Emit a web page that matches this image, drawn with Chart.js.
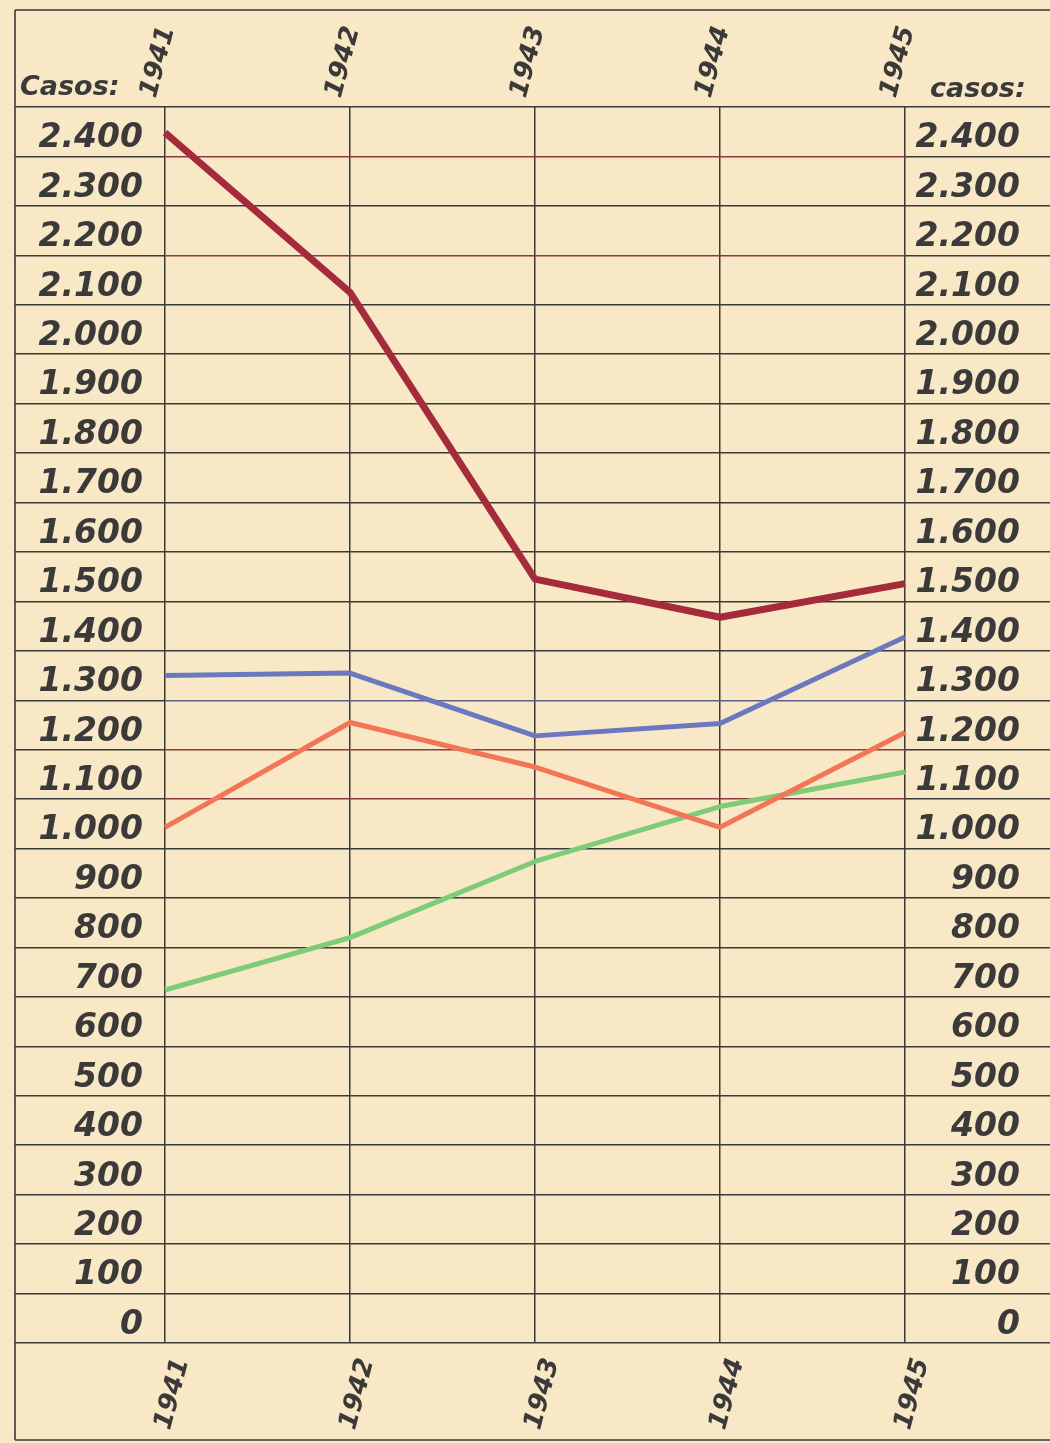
<!DOCTYPE html>
<html>
<head>
<meta charset="utf-8">
<script src="https://cdn.jsdelivr.net/npm/chart.js@4"></script>
<style>
  html, body { margin: 0; padding: 0; background: #f9e8c5; }
  canvas { display: block; }
</style>
</head>
<body>
<canvas id="chart" width="1050" height="1443"></canvas>
<script>
// years along the x axis
let years = ["1941", "1942", "1943", "1944", "1945"];

// casos per year
let redCases = [2398, 2075, 1495, 1418, 1486];
let blueCases = [1300, 1305, 1178, 1203, 1378];
let orangeCases = [993, 1205, 1115, 993, 1185];
let greenCases = [664, 770, 924, 1035, 1105];

// y tick labels (one every 100)
let yLabels = ["0", "100", "200", "300", "400", "500", "600", "700", "800", "900",
  "1.000", "1.100", "1.200", "1.300", "1.400", "1.500", "1.600", "1.700", "1.800",
  "1.900", "2.000", "2.100", "2.200", "2.300", "2.400"];

const ink = "#3b3a3a";
const tickFont = { family: "DejaVu Sans", size: 33, style: "italic", weight: "bold" };
const yearFont = { family: "DejaVu Sans", size: 26, style: "italic", weight: "bold" };

// the hand ruled lines sit half way between two labels
function isCellLine(v) { return Math.abs(v % 100) === 50; }

// a few ruled lines were traced over with coloured pencil
function gridColor(ctx) {
  let v = ctx.tick ? ctx.tick.value : null;
  if (v === null || !isCellLine(v)) return "rgba(0,0,0,0)";
  if (v === 2350 || v === 2150 || v === 1150 || v === 1050) return "#8c3b3e";
  if (v === 1250) return "#5a5f8c";
  return ink;
}
function tickLineColor(ctx) {
  let v = ctx.tick ? ctx.tick.value : null;
  if (v === null || !isCellLine(v)) return "rgba(0,0,0,0)";
  return ink;
}
function yTickLabel(v) {
  if (v % 100 !== 0) return "";
  return yLabels[v / 100] || "";
}

// outer frame and the two "Casos:" headings
const framePlugin = {
  id: "frame",
  afterDraw(chart) {
    const c = chart.ctx;
    const area = chart.chartArea;
    c.save();
    c.strokeStyle = ink;
    c.lineWidth = 1.6;
    c.beginPath();
    c.moveTo(15, 10); c.lineTo(chart.width, 10);
    c.moveTo(15, chart.height - 3); c.lineTo(chart.width, chart.height - 3);
    c.moveTo(15, 10); c.lineTo(15, chart.height - 3);
    c.stroke();
    c.fillStyle = ink;
    c.font = "italic bold 27px 'DejaVu Sans'";
    c.textBaseline = "alphabetic";
    c.textAlign = "left";
    c.fillText("Casos:", 20, 95);
    c.fillText("casos:", area.right + 25, 97);
    c.restore();
  }
};

new Chart(document.getElementById("chart"), {
  type: "line",
  data: {
    labels: years,
    datasets: [
      { data: redCases, borderColor: "#a52a3c", borderWidth: 7 },
      { data: blueCases, borderColor: "#6a79bf", borderWidth: 5 },
      { data: orangeCases, borderColor: "#f27656", borderWidth: 5 },
      { data: greenCases, borderColor: "#7ccc78", borderWidth: 5 }
    ]
  },
  options: {
    responsive: false,
    animation: false,
    devicePixelRatio: 1,
    layout: { padding: { left: 15, right: 30, top: 0, bottom: 0 } },
    elements: {
      line: { tension: 0, borderJoinStyle: "round", borderCapStyle: "butt", fill: false },
      point: { radius: 0 }
    },
    plugins: { legend: { display: false }, tooltip: { enabled: false }, title: { display: false } },
    scales: {
      x: {
        position: "bottom",
        offset: false,
        grid: { color: ink, lineWidth: 1.5, drawTicks: false },
        border: { display: false },
        ticks: { color: ink, font: yearFont, minRotation: 75, maxRotation: 75, padding: 12, labelOffset: 17 },
        afterFit: s => { s.height = 100; }
      },
      xTop: {
        type: "category",
        position: "top",
        offset: false,
        labels: years,
        grid: { drawOnChartArea: false, drawTicks: false },
        border: { display: false },
        ticks: { color: ink, font: yearFont, minRotation: 75, maxRotation: 75, padding: 6, labelOffset: 14 },
        afterFit: s => { s.height = 107; }
      },
      y: {
        position: "left",
        min: -50,
        max: 2450,
        grid: { color: gridColor, tickColor: tickLineColor, lineWidth: 1.5, tickLength: 150 },
        border: { display: false },
        ticks: { stepSize: 50, color: ink, font: tickFont, padding: -128, labelOffset: 7, crossAlign: "near", callback: yTickLabel, autoSkip: false },
        afterFit: s => { s.width = 150; }
      },
      yRight: {
        position: "right",
        min: -50,
        max: 2450,
        grid: { drawOnChartArea: false, tickColor: tickLineColor, lineWidth: 1.5, tickLength: 145 },
        border: { display: false },
        ticks: { stepSize: 50, color: ink, font: tickFont, labelOffset: 7, crossAlign: "far", callback: yTickLabel, autoSkip: false },
        afterFit: s => { s.width = 115; }
      }
    }
  },
  plugins: [framePlugin]
});
</script>
</body>
</html>
